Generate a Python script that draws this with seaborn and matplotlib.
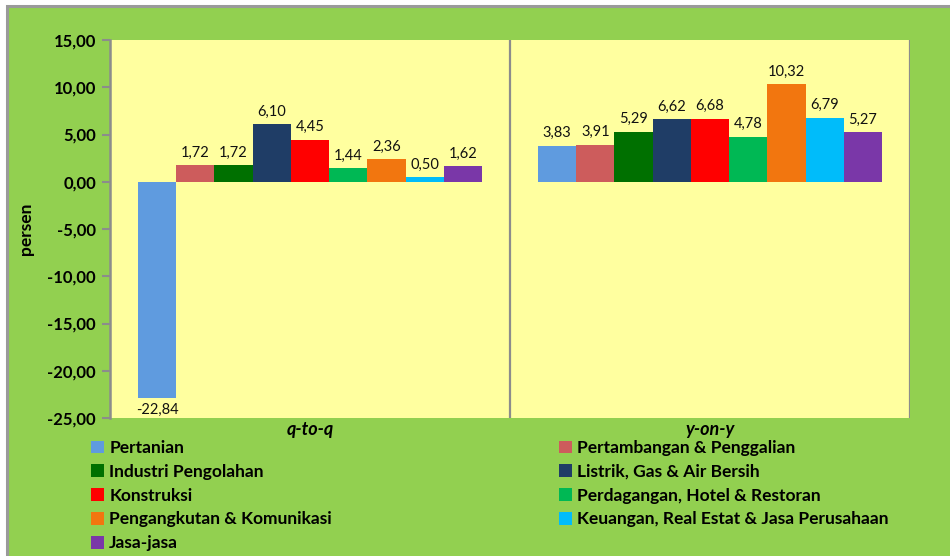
import matplotlib
matplotlib.use("Agg")
import matplotlib.pyplot as plt
import seaborn as sns
import pandas as pd
from matplotlib.patches import Rectangle

periods = ["q-to-q", "y-on-y"]
sectors = [
    "Pertanian",
    "Pertambangan & Penggalian",
    "Industri Pengolahan",
    "Listrik, Gas & Air Bersih",
    "Konstruksi",
    "Perdagangan, Hotel & Restoran",
    "Pengangkutan & Komunikasi",
    "Keuangan, Real Estat & Jasa Perusahaan",
    "Jasa-jasa",
]
q_to_q = [-22.84, 1.72, 1.72, 6.10, 4.45, 1.44, 2.36, 0.50, 1.62]
y_on_y = [3.83, 3.91, 5.29, 6.62, 6.68, 4.78, 10.32, 6.79, 5.27]
colors = ["#5F9BDF", "#CD5C5C", "#007000", "#1F3D66", "#FF0000",
          "#00B854", "#F2760F", "#00BCFA", "#7A37A8"]
yticks = [15, 10, 5, 0, -5, -10, -15, -20, -25]

rows = []
for s, a, b in zip(sectors, q_to_q, y_on_y):
    rows.append({"period": periods[0], "sector": s, "value": a})
    rows.append({"period": periods[1], "sector": s, "value": b})
df = pd.DataFrame(rows)

sns.set_style("white")
plt.rcParams["font.family"] = ["Lato", "DejaVu Sans"]
plt.rcParams["text.color"] = "black"
plt.rcParams["axes.labelcolor"] = "black"
plt.rcParams["xtick.color"] = "black"
plt.rcParams["ytick.color"] = "black"

W, H = 950, 556
fig = plt.figure(figsize=(W / 100, H / 100), dpi=100, facecolor="white")
fig.patches.append(Rectangle((7 / W, -0.05), 1.1, 1 - 6 / H + 0.05,
                             transform=fig.transFigure, facecolor="#92D050",
                             edgecolor="#9A9A9A", linewidth=2.2, zorder=-10))

ax = fig.add_axes([110 / W, 1 - 418 / H, 800 / W, 378 / H])
ax.set_facecolor("#FFFF9F")

sns.barplot(data=df, x="period", y="value", hue="sector", order=periods,
            hue_order=sectors, palette=colors, width=0.86, saturation=1,
            ax=ax, linewidth=0, edgecolor="none")

for cont in ax.containers:
    labels = [f"{b.get_height():.2f}".replace(".", ",") for b in cont]
    ax.bar_label(cont, labels=labels, padding=4, fontsize=10.5,
                 color="#111111")

ax.set_ylim(-25, 15)
ax.set_xlim(-0.5, 1.5)
ax.set_yticks(yticks)
ax.set_yticklabels([f"{t:.2f}".replace(".", ",") for t in yticks])
ax.tick_params(axis="y", direction="out", length=6, width=1.5,
               color="#8C8C8C", labelcolor="black", pad=4, left=True)
ax.tick_params(axis="x", length=0, pad=2, labelcolor="black")
for lab in ax.get_yticklabels():
    lab.set_fontweight("bold")
    lab.set_fontsize(12)
for lab in ax.get_xticklabels():
    lab.set_fontweight("bold")
    lab.set_fontstyle("italic")
    lab.set_fontsize(13)
ax.set_xlabel("")
ax.set_ylabel("persen", fontsize=12.5, fontweight="bold", labelpad=10,
              color="black")

for sp in ["top", "bottom", "right"]:
    ax.spines[sp].set_visible(False)
ax.spines["left"].set_color("#8C8C8C")
ax.spines["left"].set_linewidth(1.8)
for xv in [0.5, 1.5]:
    ax.axvline(xv, color="#8C8C8C", linewidth=1.6)

handles, labels = ax.get_legend_handles_labels()
ax.get_legend().remove()

leg_kw = dict(frameon=False, handlelength=0.75, handleheight=0.75,
              handletextpad=0.3, labelspacing=0.45,
              prop={"weight": "bold", "size": 12.5}, borderaxespad=0,
              borderpad=0)
left_idx = [0, 2, 4, 6, 8]
right_idx = [1, 3, 5, 7]
fig.legend([handles[i] for i in left_idx], [labels[i] for i in left_idx],
           loc="upper left", bbox_to_anchor=(91 / W, 1 - 440 / H), **leg_kw)
fig.legend([handles[i] for i in right_idx], [labels[i] for i in right_idx],
           loc="upper left", bbox_to_anchor=(559 / W, 1 - 440 / H), **leg_kw)

fig.savefig("out.png", dpi=100, facecolor=fig.get_facecolor())
